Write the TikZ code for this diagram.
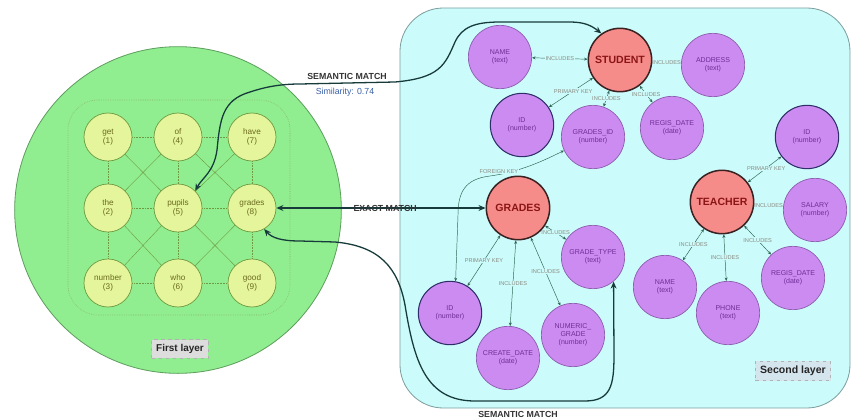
\documentclass[tikz,border=0pt]{standalone}
\usepackage{fontspec}
\setmainfont{Liberation Sans}
\usetikzlibrary{arrows.meta}
\pgfdeclarelayer{bg}
\pgfdeclarelayer{edges}
\pgfsetlayers{bg,edges,main}
\definecolor{layergreen}{HTML}{90EE90}
\definecolor{layergreenb}{HTML}{5E9E5E}
\definecolor{wordfill}{HTML}{E4F59C}
\definecolor{wordline}{HTML}{6E9A40}
\definecolor{wordtext}{HTML}{6B6B1E}
\definecolor{cyanfill}{HTML}{CCFBFB}
\definecolor{cyanline}{HTML}{7E9E9E}
\definecolor{entfill}{HTML}{F68C8A}
\definecolor{entline}{HTML}{3A2222}
\definecolor{enttext}{HTML}{8B1515}
\definecolor{attfill}{HTML}{CC8BF0}
\definecolor{attline}{HTML}{8D5FB0}
\definecolor{attkey}{HTML}{2E2E6A}
\definecolor{atttext}{HTML}{6E2E96}
\definecolor{reledge}{HTML}{2F6655}
\definecolor{rellabel}{HTML}{8A8A80}
\definecolor{matchline}{HTML}{173B3B}
\definecolor{simblue}{HTML}{3A5FA8}
\definecolor{boxgrey}{HTML}{DDDDDD}
\definecolor{boxblue}{HTML}{D5E5EE}
\tikzset{
  wordnode/.style={circle, draw=wordline, line width=0.6pt, fill=wordfill, minimum size=1.44cm, inner sep=0pt, align=center, font=\fontsize{7}{8}\selectfont, text=wordtext},
  entity/.style={circle, draw=entline, line width=1.3pt, fill=entfill, minimum size=1.9cm, inner sep=0pt, font=\bfseries\fontsize{9}{10}\selectfont, text=enttext},
  attr/.style={circle, draw=attline, line width=0.6pt, fill=attfill, minimum size=1.9cm, inner sep=0pt, align=center, font=\fontsize{6}{7}\selectfont, text=atttext},
  keyattr/.style={attr, draw=attkey, line width=0.9pt},
  rel/.style={draw=reledge, line width=0.4pt, {Stealth[length=3pt,width=2.5pt]}-{Stealth[length=3pt,width=2.5pt]}},
  rellab/.style={font=\fontsize{4.8}{5}\selectfont, text=rellabel, inner sep=0.6pt, fill=cyanfill},
  matchedge/.style={draw=matchline, line width=1.1pt},
  matchlab/.style={font=\bfseries\fontsize{7.5}{8}\selectfont, text=black!80, inner sep=1pt},
  wedge/.style={draw=wordline, line width=0.35pt},
  wdot/.style={wedge, densely dotted},
  layerbox/.style={draw=gray!60, line width=0.4pt, dashed, inner sep=4pt, font=\bfseries\fontsize{8.5}{10}\selectfont, text=black!85}
}
\begin{document}
\begin{tikzpicture}[x=0.03cm,y=-0.03cm]
\useasboundingbox (0,0) rectangle (854,418);
% layer backgrounds
\begin{pgfonlayer}{bg}
\node[circle, draw=layergreenb, line width=0.7pt, fill=layergreen, minimum size=9.8cm, inner sep=0pt] (layerone) at (178,210) {};
\node[draw=wordline!80, densely dotted, line width=0.5pt, rounded corners=0.9cm, minimum width=6.66cm, minimum height=6.45cm] (grid) at (179,207.5) {};
\node[draw=cyanline, line width=0.7pt, fill=cyanfill, rounded corners=1.3cm, minimum width=13.5cm, minimum height=12cm] (layertwo) at (625,208) {};
\end{pgfonlayer}

\node[layerbox, fill=boxgrey] (firstlab) at (180,349) {First layer};
\node[layerbox, fill=boxblue, font=\bfseries\fontsize{9}{10}\selectfont] (secondlab) at (793,371) {Second layer};

% word nodes
\node[wordnode] (w1) at (108,137) {get\\(1)};
\node[wordnode] (w2) at (108,208) {the\\(2)};
\node[wordnode] (w3) at (108,283) {number\\(3)};
\node[wordnode] (w4) at (178,137) {of\\(4)};
\node[wordnode] (w5) at (178,208) {pupils\\(5)};
\node[wordnode] (w6) at (178,283) {who\\(6)};
\node[wordnode] (w7) at (252,137) {have\\(7)};
\node[wordnode] (w8) at (252,208) {grades\\(8)};
\node[wordnode] (w9) at (252,283) {good\\(9)};

% entities
\node[entity] (student) at (620,60) {STUDENT};
\node[entity] (grades) at (518,208) {GRADES};
\node[entity] (teacher) at (722,202) {TEACHER};

% student attributes
\node[attr] (sname) at (500,57) {NAME\\(text)};
\node[attr] (saddr) at (713,65) {ADDRESS\\(text)};
\node[keyattr] (sid) at (522,125) {ID\\(number)};
\node[attr] (sgid) at (593,137) {GRADES\_ID\\(number)};
\node[attr] (sreg) at (672,128) {REGIS\_DATE\\(date)};

% teacher attributes
\node[keyattr] (tid) at (807,137) {ID\\(number)};
\node[attr] (tsal) at (815,210) {SALARY\\(number)};
\node[attr] (tname) at (665,287) {NAME\\(text)};
\node[attr] (tphone) at (728,313) {PHONE\\(text)};
\node[attr] (treg) at (793,278) {REGIS\_DATE\\(date)};

% grades attributes
\node[keyattr] (gid) at (450,313) {ID\\(number)};
\node[attr] (gcreate) at (508,358) {CREATE\_DATE\\(date)};
\node[attr] (gnum) at (573,335) {NUMERIC\_\\GRADE\\(number)};
\node[attr] (gtype) at (593,257) {GRADE\_TYPE\\(text)};

\begin{pgfonlayer}{edges}
% word lattice
\foreach \a/\b in {w1/w4,w4/w7,w2/w5,w5/w8,w3/w6,w6/w9,w1/w2,w2/w3,w4/w5,w5/w6,w7/w8,w8/w9}
  \draw[wdot] (\a) -- (\b);
\foreach \a/\b in {w1/w5,w4/w2,w4/w8,w7/w5,w2/w6,w5/w3,w5/w9,w8/w6}
  \draw[wedge] (\a) -- (\b);

% student relations
\draw[rel] (student) -- node[rellab] {INCLUDES} (sname);
\draw[rel] (student) -- node[rellab] {INCLUDES} (saddr);
\draw[rel] (student) -- node[rellab, pos=0.45] {PRIMARY KEY} (sid);
\draw[rel] (student) -- node[rellab] {INCLUDES} (sgid);
\draw[rel] (student) -- node[rellab] {INCLUDES} (sreg);
% teacher relations
\draw[rel] (teacher) -- node[rellab, pos=0.55] {PRIMARY KEY} (tid);
\draw[rel] (teacher) -- node[rellab] {INCLUDES} (tsal);
\draw[rel] (teacher) -- node[rellab] {INCLUDES} (tname);
\draw[rel] (teacher) -- node[rellab] {INCLUDES} (tphone);
\draw[rel] (teacher) -- node[rellab] {INCLUDES} (treg);
% grades relations
\draw[rel] (grades) -- node[rellab] {PRIMARY KEY} (gid);
\draw[rel] (grades) -- node[rellab] {INCLUDES} (gcreate);
\draw[rel] (grades) -- node[rellab] {INCLUDES} (gnum);
\draw[rel] (grades) -- node[rellab] {INCLUDES} (gtype);
% foreign key
\draw[rel] (sgid.205) .. controls (545,160) and (520,172) .. (490,176)
  node[rellab, pos=0.9, above] {FOREIGN KEY}
  .. controls (465,179) and (458,192) .. (458,215) -- (gid.80);

% cross-layer matches
\draw[matchedge, {Stealth[length=6pt,width=5pt]}-{Stealth[length=6pt,width=5pt]}]
  (w5.45) .. controls (202,178) and (214,172) .. (217,150)
  .. controls (220,120) and (222,100) .. (250,92)
  .. controls (265,87) and (280,84) .. (300,84) -- (395,82)
  .. controls (440,78) and (445,65) .. (455,42)
  .. controls (462,27) and (475,22) .. (500,22) -- (570,22)
  .. controls (585,22) and (592,26) .. (student.125);
\node[matchlab] (semlab) at (347,76) {SEMANTIC MATCH};
\node[font=\fontsize{7.5}{8}\selectfont, text=simblue, inner sep=1pt] (simlab) at (345,92) {Similarity: 0.74};

\draw[matchedge, {Stealth[length=6pt,width=5pt]}-{Stealth[length=6pt,width=5pt]}]
  (w8) -- node[matchlab, pos=0.52] {EXACT MATCH} (grades);

\draw[matchedge, {Stealth[length=6pt,width=5pt]}-{Stealth[length=6pt,width=5pt]}]
  (w8.-60) .. controls (272,238) and (282,241) .. (300,241) -- (335,242)
  .. controls (380,246) and (398,268) .. (405,305)
  .. controls (414,360) and (425,401) .. (475,401) -- (585,401)
  .. controls (611,401) and (614,385) .. (614,355) -- (gtype.-50);
\node[matchlab] (semlabb) at (518,414) {SEMANTIC MATCH};
\end{pgfonlayer}
\end{tikzpicture}
\end{document}
